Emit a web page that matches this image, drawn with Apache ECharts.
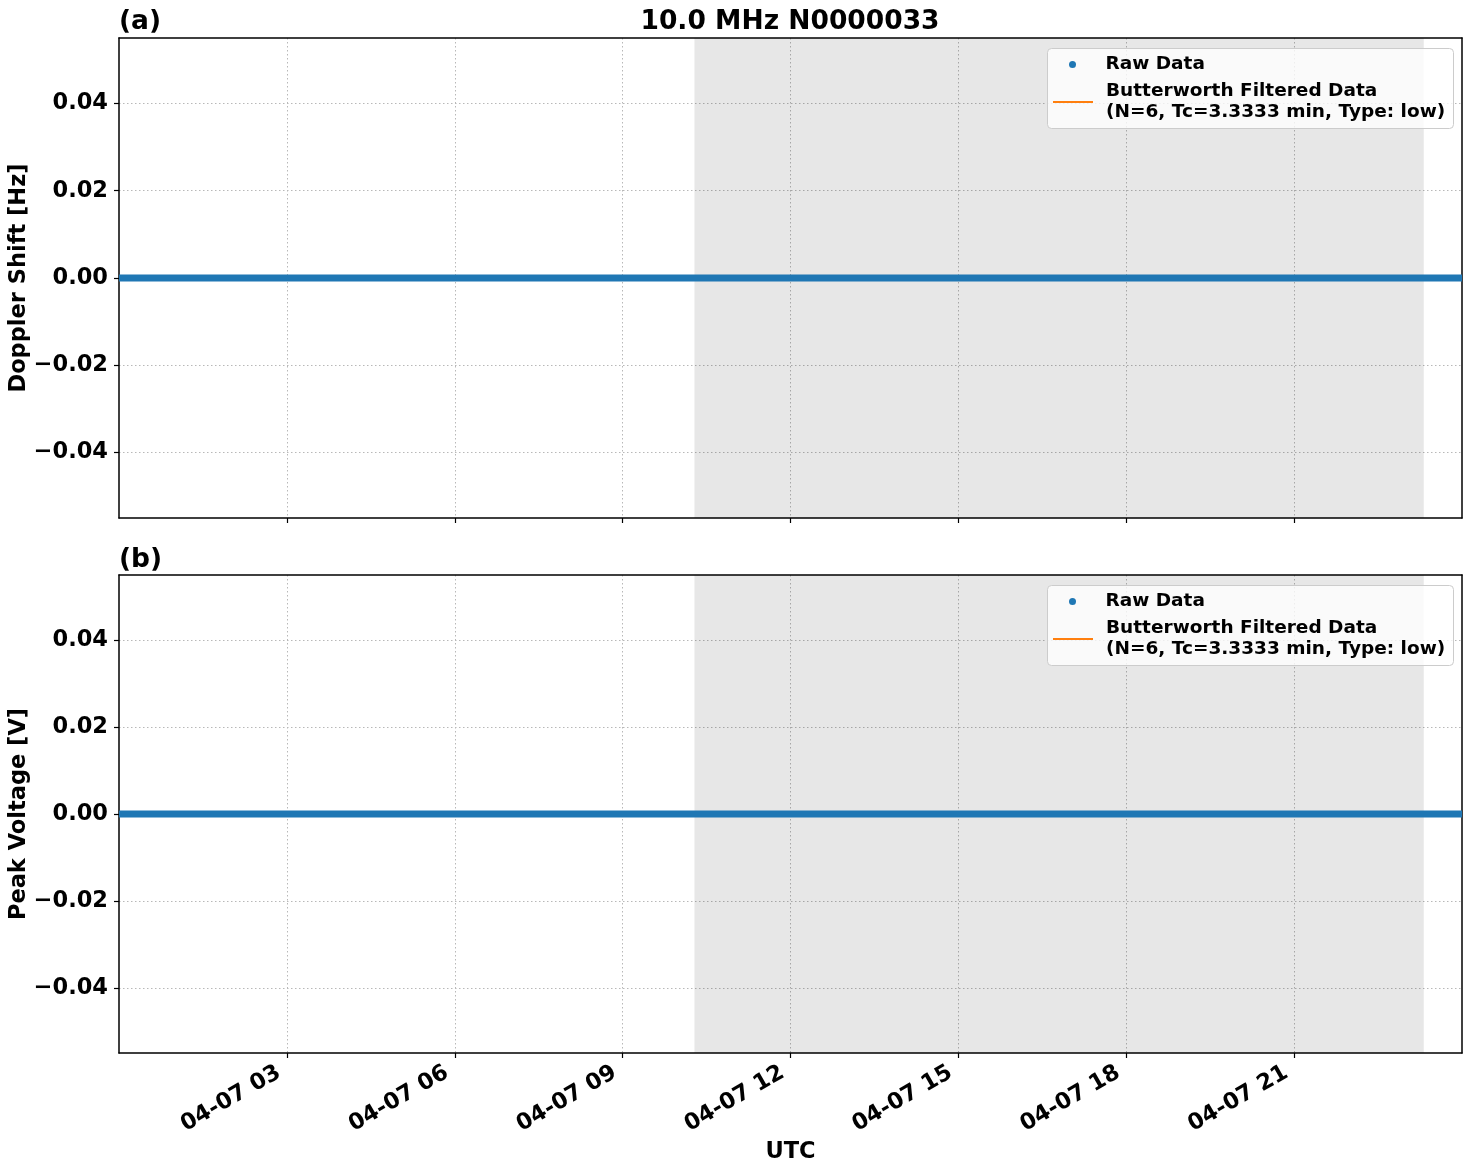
<!DOCTYPE html>
<html>
<head>
<meta charset="utf-8">
<script src="https://cdn.jsdelivr.net/npm/echarts@6/dist/echarts.min.js"></script>
<style>html,body{margin:0;padding:0;background:#fff}#c{width:1472px;height:1172px}</style>
</head>
<body>
<div id="c"></div>
<script>
// ---- data ----
const titleText = '10.0 MHz N0000033';
const panelLabels = ['(a)', '(b)'];
const yNames = ['Doppler Shift [Hz]', 'Peak Voltage [V]'];
const xName = 'UTC';
const dayStart = Date.UTC(2024, 3, 7, 0, 0);
const dayEnd = Date.UTC(2024, 3, 8, 0, 0);
const xTicks = [
  Date.UTC(2024, 3, 7, 3), Date.UTC(2024, 3, 7, 6), Date.UTC(2024, 3, 7, 9),
  Date.UTC(2024, 3, 7, 12), Date.UTC(2024, 3, 7, 15), Date.UTC(2024, 3, 7, 18),
  Date.UTC(2024, 3, 7, 21)
];
const yTicks = [-0.04, -0.02, 0.0, 0.02, 0.04];
const yMin = -0.055, yMax = 0.055;
const shadeStart = Date.UTC(2024, 3, 7, 10, 17);
const shadeEnd = Date.UTC(2024, 3, 7, 23, 19);
// raw samples (all read as 0 from the picture), hourly
const rawTimes = [
  Date.UTC(2024,3,7,0), Date.UTC(2024,3,7,1), Date.UTC(2024,3,7,2), Date.UTC(2024,3,7,3),
  Date.UTC(2024,3,7,4), Date.UTC(2024,3,7,5), Date.UTC(2024,3,7,6), Date.UTC(2024,3,7,7),
  Date.UTC(2024,3,7,8), Date.UTC(2024,3,7,9), Date.UTC(2024,3,7,10), Date.UTC(2024,3,7,11),
  Date.UTC(2024,3,7,12), Date.UTC(2024,3,7,13), Date.UTC(2024,3,7,14), Date.UTC(2024,3,7,15),
  Date.UTC(2024,3,7,16), Date.UTC(2024,3,7,17), Date.UTC(2024,3,7,18), Date.UTC(2024,3,7,19),
  Date.UTC(2024,3,7,20), Date.UTC(2024,3,7,21), Date.UTC(2024,3,7,22), Date.UTC(2024,3,7,23),
  Date.UTC(2024,3,8,0)
];
const rawDoppler = [0,0,0,0,0,0,0,0,0,0,0,0,0,0,0,0,0,0,0,0,0,0,0,0,0];
const rawVoltage = [0,0,0,0,0,0,0,0,0,0,0,0,0,0,0,0,0,0,0,0,0,0,0,0,0];
const filteredDoppler = []; // no valid filtered values visible
const filteredVoltage = [];
const rawName = 'Raw Data';
const filtName = 'Butterworth Filtered Data\n(N=6, Tc=3.3333 min, Type: low)';

// ---- styles ----
const FONT = 'DejaVu Sans';
const BLUE = '#1f77b4', ORANGE = '#ff7f0e';
const AX = 22.5;
const pad = n => String(n).padStart(2, '0');
const fmtX = v => { const d = new Date(v); return pad(d.getUTCMonth() + 1) + '-' + pad(d.getUTCDate()) + ' ' + pad(d.getUTCHours()); };
const fmtY = v => (v < 0 ? '\u2212' : '') + Math.abs(v).toFixed(2);

const grids = [
  { left: 119, right: 10, top: 38, height: 480, containLabel: false, outerBoundsMode: 'none' },
  { left: 119, right: 10, top: 575, height: 478, containLabel: false, outerBoundsMode: 'none' }
];

const xAxes = [], yAxes = [], series = [], legends = [], graphics = [];
const rawSets = [rawDoppler, rawVoltage];
const filtSets = [filteredDoppler, filteredVoltage];
const legendTops = [48, 585];

grids.forEach((g, i) => {
  const showLabels = i === 1;
  xAxes.push({
    type: 'value', gridIndex: i, position: 'bottom', min: dayStart, max: dayEnd,
    axisLine: { show: true, onZero: false, lineStyle: { color: '#000', width: 1.5 } },
    axisTick: { show: true, length: 5, customValues: xTicks, lineStyle: { color: '#000', width: 1.2 } },
    axisLabel: { show: showLabels, customValues: xTicks, formatter: fmtX, rotate: 30, margin: 13.5,
      padding: [0, 9, 0, 0],
      fontFamily: FONT, fontWeight: 'bold', fontSize: AX, color: '#000' },
    splitLine: { show: true, lineStyle: { color: '#b8b8b8', width: 1, type: [1.5, 2.5] } },
    name: showLabels ? xName : '', nameLocation: 'middle', nameGap: 88,
    nameTextStyle: { fontFamily: FONT, fontWeight: 'bold', fontSize: AX, color: '#000' }
  });
  xAxes.push({
    type: 'value', gridIndex: i, position: 'top', min: dayStart, max: dayEnd,
    axisLine: { show: true, onZero: false, lineStyle: { color: '#000', width: 1.5 } },
    axisTick: { show: false }, axisLabel: { show: false }, splitLine: { show: false }
  });
  yAxes.push({
    type: 'value', gridIndex: i, position: 'left', min: yMin, max: yMax,
    axisLine: { show: true, onZero: false, lineStyle: { color: '#000', width: 1.5 } },
    axisTick: { show: true, length: 5, customValues: yTicks, lineStyle: { color: '#000', width: 1.2 } },
    axisLabel: { show: true, customValues: yTicks, formatter: fmtY, margin: 11,
      fontFamily: FONT, fontWeight: 'bold', fontSize: AX, color: '#000' },
    splitLine: { show: true, lineStyle: { color: '#b8b8b8', width: 1, type: [1.5, 2.5] } },
    name: yNames[i], nameLocation: 'middle', nameGap: 88, nameMoveOverlap: false,
    nameTextStyle: { fontFamily: FONT, fontWeight: 'bold', fontSize: AX, color: '#000' }
  });
  yAxes.push({
    type: 'value', gridIndex: i, position: 'right', min: yMin, max: yMax,
    axisLine: { show: true, onZero: false, lineStyle: { color: '#000', width: 1.5 } },
    axisTick: { show: false }, axisLabel: { show: false }, splitLine: { show: false }
  });

  series.push({
    name: filtName, type: 'line', xAxisIndex: 2 * i, yAxisIndex: 2 * i, z: 1,
    data: filtSets[i].map((v, k) => [rawTimes[k], v]),
    showSymbol: false, symbol: 'none', lineStyle: { color: ORANGE, width: 2 }, itemStyle: { color: ORANGE },
    silent: true,
    markArea: {
      silent: true, itemStyle: { color: 'rgba(0,0,0,0.095)' },
      data: [[{ xAxis: shadeStart }, { xAxis: shadeEnd }]]
    }
  });
  series.push({
    name: rawName, type: 'line', xAxisIndex: 2 * i, yAxisIndex: 2 * i, z: 3,
    data: rawSets[i].map((v, k) => [rawTimes[k], v]),
    showSymbol: false, symbol: 'none', lineStyle: { color: BLUE, width: 7, cap: 'butt' },
    itemStyle: { color: BLUE }, silent: true, clip: true
  });

  const lt = legendTops[i];
  graphics.push({
    type: 'rect', z: 10, shape: { x: 1047.5, y: lt + 0.5, width: 406, height: 80, r: 4 },
    style: { fill: 'rgba(255,255,255,0.8)', stroke: '#cccccc', lineWidth: 1 }
  });
  legends.push({
    z: 20, left: 1069, top: lt + 7, orient: 'vertical', padding: 0,
    itemWidth: 40, itemHeight: 7, selectedMode: false,
    data: [{ name: rawName, icon: 'circle', itemStyle: { color: BLUE } }],
    textStyle: { fontFamily: FONT, fontWeight: 'bold', fontSize: 18.5, color: '#000', padding: [0, 0, 0, 8] }
  });
  legends.push({
    z: 20, left: 1053, top: lt + 33, orient: 'vertical', padding: 0,
    itemWidth: 40, itemHeight: 2, selectedMode: false,
    data: [{ name: filtName, icon: 'rect', itemStyle: { color: ORANGE } }],
    textStyle: { fontFamily: FONT, fontWeight: 'bold', fontSize: 18.5, color: '#000', lineHeight: 21, padding: [0, 0, 0, 8] }
  });
});

const titles = [
  { text: titleText, left: 790, top: 9, textAlign: 'center',
    textStyle: { fontFamily: FONT, fontWeight: 'bold', fontSize: 26.5, color: '#000' }, padding: 0 },
  { text: panelLabels[0], left: 119, top: 9, padding: 0,
    textStyle: { fontFamily: FONT, fontWeight: 'bold', fontSize: 26.5, color: '#000' } },
  { text: panelLabels[1], left: 119, top: 547, padding: 0,
    textStyle: { fontFamily: FONT, fontWeight: 'bold', fontSize: 26.5, color: '#000' } }
];

const chart = echarts.init(document.getElementById('c'), null, { renderer: 'canvas' });
chart.setOption({
  animation: false,
  backgroundColor: '#fff',
  title: titles,
  grid: grids,
  xAxis: xAxes,
  yAxis: yAxes,
  legend: legends,
  graphic: graphics,
  series: series
});
</script>
</body>
</html>
